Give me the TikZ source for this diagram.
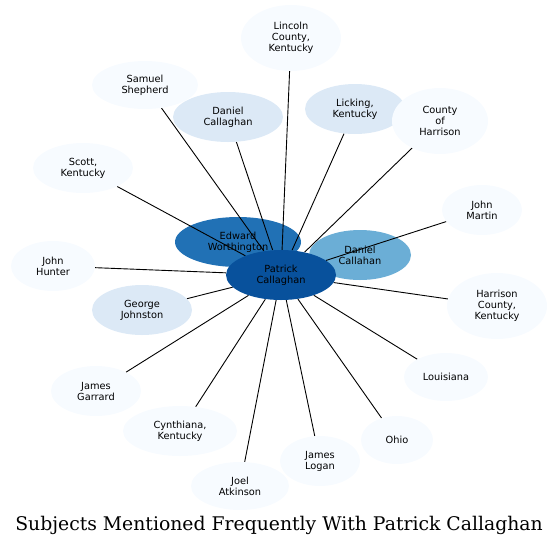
\documentclass[tikz,border=0pt]{standalone}
\usepackage{fontspec}
\setmainfont{DejaVu Serif}
\setsansfont{DejaVu Sans}
\usepackage{xcolor}
\usetikzlibrary{shapes.geometric,backgrounds}
\pgfdeclarelayer{edgelayer}
\pgfsetlayers{background,edgelayer,main}

\definecolor{leaf}{HTML}{F7FBFF}
\definecolor{pale}{HTML}{DCE9F6}
\definecolor{midblue}{HTML}{6BAED6}
\definecolor{deepblue}{HTML}{2171B5}
\definecolor{hubblue}{HTML}{08519C}

\begin{document}
\begin{tikzpicture}[x=1pt, y=-1pt,
    subj/.style={ellipse, fill=leaf, inner sep=0pt, align=center,
        font=\sffamily\fontsize{9.8}{11}\selectfont},
    link/.style={line width=0.9pt, black}]
    \useasboundingbox (0,0) rectangle (559,547);

    % Outer subjects
    \node[subj, minimum width=100, minimum height=66] (lincoln) at (291,38) {Lincoln\\County,\\Kentucky};
    \node[subj, minimum width=106, minimum height=48] (shepherd) at (145,85) {Samuel\\Shepherd};
    \node[subj, fill=pale, minimum width=110, minimum height=50] (dcallaghan) at (228,117) {Daniel\\Callaghan};
    \node[subj, fill=pale, minimum width=100, minimum height=50] (licking) at (355,109) {Licking,\\Kentucky};
    \node[subj, minimum width=96, minimum height=66] (countyharrison) at (440,121) {County\\of\\Harrison};
    \node[subj, minimum width=100, minimum height=50] (scott) at (83,168) {Scott,\\Kentucky};
    \node[subj, minimum width=80, minimum height=50] (martin) at (482,210) {John\\Martin};
    \node[subj, minimum width=84, minimum height=50] (hunter) at (53,266) {John\\Hunter};
    \node[subj, minimum width=100, minimum height=66] (harrisonco) at (497,306) {Harrison\\County,\\Kentucky};
    \node[subj, fill=pale, minimum width=100, minimum height=50] (johnston) at (142,310) {George\\Johnston};
    \node[subj, minimum width=84, minimum height=48] (louisiana) at (446,377) {Louisiana};
    \node[subj, minimum width=90, minimum height=50] (garrard) at (96,391) {James\\Garrard};
    \node[subj, minimum width=114, minimum height=50] (cynthiana) at (180,431) {Cynthiana,\\Kentucky};
    \node[subj, minimum width=72, minimum height=48] (ohio) at (397,440) {Ohio};
    \node[subj, minimum width=80, minimum height=50] (logan) at (320,461) {James\\Logan};
    \node[subj, minimum width=98, minimum height=48] (atkinson) at (240,486) {Joel\\Atkinson};

    % Close subjects, under the links
    \begin{pgfonlayer}{background}
        \node[subj, fill=deepblue, minimum width=126, minimum height=50] (worthington) at (238,242) {Edward\\Worthington};
        \node[subj, fill=midblue, minimum width=102, minimum height=50] (dcallahan) at (360,255) {Daniel\\Callahan};
    \end{pgfonlayer}

    % Central person
    \node[subj, fill=hubblue, minimum width=110, minimum height=50] (patrick) at (281,275) {Patrick\\Callaghan};

    % Links
    \begin{pgfonlayer}{edgelayer}
        \foreach \s in {lincoln, shepherd, dcallaghan, licking, countyharrison, scott, martin,
            hunter, harrisonco, johnston, louisiana, garrard, cynthiana, ohio, logan, atkinson}
            \draw[link] (\s) -- (patrick);
    \end{pgfonlayer}

    % Title
    \node[font=\fontsize{18.8}{22}\selectfont] (title) at (279,525) {Subjects Mentioned Frequently With Patrick Callaghan};
\end{tikzpicture}
\end{document}
